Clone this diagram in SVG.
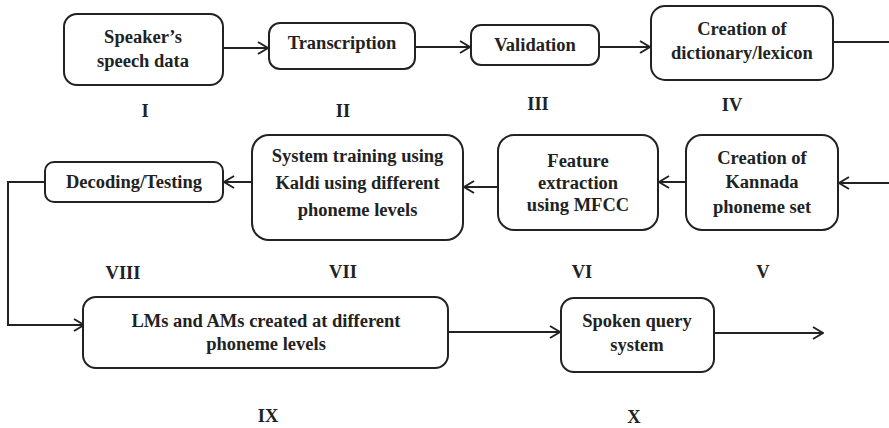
<svg xmlns="http://www.w3.org/2000/svg" width="889" height="428" viewBox="0 0 889 428" font-family="Liberation Serif, DejaVu Serif, serif">
<defs>
<style>
.box{fill:#fff;stroke:#222;stroke-width:2}
.t{font-weight:700;font-size:18.5px;fill:#222;text-anchor:middle}
.c{fill:none;stroke:#222;stroke-width:2}
</style>
<marker id="ah" viewBox="0 0 12 14" refX="11" refY="7" markerWidth="12" markerHeight="14" markerUnits="userSpaceOnUse" orient="auto">
<path d="M1,1 L11,7 L1,13" fill="none" stroke="#222" stroke-width="2"/>
</marker>
</defs>
<rect width="889" height="428" fill="#fff"/>
<g id="connectors">
<line class="c" x1="223" y1="48" x2="268" y2="48" marker-end="url(#ah)"/>
<line class="c" x1="415" y1="47" x2="470" y2="47" marker-end="url(#ah)"/>
<line class="c" x1="599" y1="47" x2="650" y2="47" marker-end="url(#ah)"/>
<line class="c" x1="833" y1="42" x2="889" y2="42"/>
<line class="c" x1="889" y1="183" x2="839" y2="183" marker-end="url(#ah)"/>
<line class="c" x1="686" y1="182" x2="659" y2="182" marker-end="url(#ah)"/>
<line class="c" x1="498" y1="187" x2="464" y2="187" marker-end="url(#ah)"/>
<line class="c" x1="252" y1="182" x2="224" y2="182" marker-end="url(#ah)"/>
<polyline class="c" points="45,182 8,182 8,325 84,325" marker-end="url(#ah)"/>
<line class="c" x1="448" y1="332" x2="560" y2="332" marker-end="url(#ah)"/>
<line class="c" x1="714" y1="333" x2="823" y2="333" marker-end="url(#ah)"/>
</g>
<g id="n1"><rect class="box" x="64" y="14" width="159" height="71" rx="13"/><text class="t" x="143" y="42.5">Speaker’s</text><text class="t" x="143" y="67">speech data</text></g>
<g id="n2"><rect class="box" x="269" y="23" width="146" height="46" rx="11"/><text class="t" x="342" y="49">Transcription</text></g>
<g id="n3"><rect class="box" x="471" y="25" width="128" height="40" rx="10"/><text class="t" x="535" y="51">Validation</text></g>
<g id="n4"><rect class="box" x="651" y="6" width="182" height="74" rx="14"/><text class="t" x="742" y="35">Creation of</text><text class="t" x="742" y="59">dictionary/lexicon</text></g>
<g id="n5"><rect class="box" x="686" y="135" width="152" height="95" rx="16"/><text class="t" x="762" y="164">Creation of</text><text class="t" x="762" y="188">Kannada</text><text class="t" x="762" y="213">phoneme set</text></g>
<g id="n6"><rect class="box" x="498" y="135" width="160" height="95" rx="16"/><text class="t" x="578" y="167">Feature</text><text class="t" x="578" y="189">extraction</text><text class="t" x="578" y="211">using MFCC</text></g>
<g id="n7"><rect class="box" x="252" y="135" width="211" height="105" rx="17"/><text class="t" x="357.5" y="162">System training using</text><text class="t" x="357.5" y="189">Kaldi using different</text><text class="t" x="357.5" y="216">phoneme levels</text></g>
<g id="n8"><rect class="box" x="45" y="162" width="178" height="40" rx="9"/><text class="t" x="134" y="188">Decoding/Testing</text></g>
<g id="n9"><rect class="box" x="83" y="297" width="365" height="71" rx="13"/><text class="t" x="266" y="327">LMs and AMs created at different</text><text class="t" x="266" y="350">phoneme levels</text></g>
<g id="n10"><rect class="box" x="561" y="298" width="153" height="74" rx="13"/><text class="t" x="637" y="327">Spoken query</text><text class="t" x="637" y="351">system</text></g>
<g id="labels">
<text class="t" x="145" y="117">I</text>
<text class="t" x="343" y="117">II</text>
<text class="t" x="538" y="110">III</text>
<text class="t" x="732" y="111">IV</text>
<text class="t" x="763" y="278">V</text>
<text class="t" x="582" y="278">VI</text>
<text class="t" x="343" y="278">VII</text>
<text class="t" x="123" y="279">VIII</text>
<text class="t" x="268" y="422">IX</text>
<text class="t" x="634" y="423">X</text>
</g>
</svg>
